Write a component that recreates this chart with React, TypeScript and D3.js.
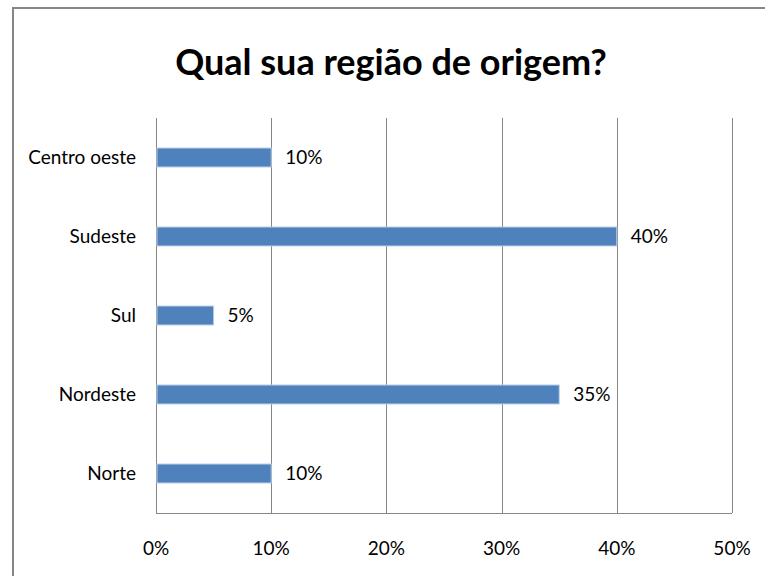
import React, { useEffect, useRef } from 'react';
import * as d3 from 'd3';

const categories = ['Centro oeste', 'Sudeste', 'Sul', 'Nordeste', 'Norte'];
const values = [0.10, 0.40, 0.05, 0.35, 0.10];
const ticks = [0, 0.1, 0.2, 0.3, 0.4, 0.5];
const title = 'Qual sua região de origem?';

const font = 'Lato, "Open Sans", sans-serif';

export default function App() {
  const svgRef = useRef<SVGSVGElement>(null);

  useEffect(() => {
    if (!svgRef.current) return;
    const svg = d3.select(svgRef.current);
    svg.selectAll('*').remove();

    const width = 765;
    const height = 576;
    const margin = { top: 118, right: 33, bottom: 63, left: 156 };

    svg.append('rect')
      .attr('width', width)
      .attr('height', height)
      .attr('fill', '#fff');

    // outer chart border
    svg.append('rect')
      .attr('x', 13)
      .attr('y', 8)
      .attr('width', width + 20)
      .attr('height', height + 20)
      .attr('fill', 'none')
      .attr('stroke', '#868686')
      .attr('stroke-width', 2);

    const x = d3.scaleLinear()
      .domain([0, 0.5])
      .range([margin.left, width - margin.right]);

    const y = d3.scaleBand<string>()
      .domain(categories)
      .range([margin.top, height - margin.bottom])
      .paddingInner(0.76)
      .paddingOuter(0.38);

    svg.append('g')
      .selectAll('line')
      .data(ticks)
      .join('line')
      .attr('x1', d => Math.round(x(d)) + 0.5)
      .attr('x2', d => Math.round(x(d)) + 0.5)
      .attr('y1', margin.top)
      .attr('y2', height - margin.bottom)
      .attr('stroke', '#868686')
      .attr('stroke-width', 1);

    svg.append('line')
      .attr('x1', margin.left)
      .attr('x2', width - margin.right)
      .attr('y1', height - margin.bottom + 0.5)
      .attr('y2', height - margin.bottom + 0.5)
      .attr('stroke', '#868686');

    svg.append('g')
      .selectAll('rect')
      .data(values)
      .join('rect')
      .attr('x', margin.left + 1)
      .attr('y', (_, i) => y(categories[i])!)
      .attr('width', d => x(d) - x(0) - 1)
      .attr('height', y.bandwidth())
      .attr('fill', '#4f81bd')
      .attr('stroke', '#b9cde5')
      .attr('stroke-width', 1);

    svg.append('g')
      .selectAll('text')
      .data(values)
      .join('text')
      .attr('x', d => x(d) + 14)
      .attr('y', (_, i) => y(categories[i])! + y.bandwidth() / 2)
      .attr('dy', '0.35em')
      .attr('font-family', font)
      .attr('font-size', 19)
      .attr('fill', '#000')
      .text(d => `${Math.round(d * 100)}%`);

    svg.append('g')
      .selectAll('text')
      .data(categories)
      .join('text')
      .attr('x', margin.left - 20)
      .attr('y', d => y(d)! + y.bandwidth() / 2)
      .attr('dy', '0.35em')
      .attr('text-anchor', 'end')
      .attr('font-family', font)
      .attr('font-size', 19)
      .attr('fill', '#000')
      .text(d => d);

    svg.append('g')
      .selectAll('text')
      .data(ticks)
      .join('text')
      .attr('x', d => x(d))
      .attr('y', 548)
      .attr('dy', '0.35em')
      .attr('text-anchor', 'middle')
      .attr('font-family', font)
      .attr('font-size', 19)
      .attr('fill', '#000')
      .text(d => `${Math.round(d * 100)}%`);

    svg.append('text')
      .attr('x', 391)
      .attr('y', 75)
      .attr('text-anchor', 'middle')
      .attr('font-family', font)
      .attr('font-weight', 'bold')
      .attr('font-size', 36)
      .attr('fill', '#000')
      .text(title);
  }, []);

  return (
    <svg ref={svgRef} width={765} height={576}
      style={{ position: 'absolute', left: 0, top: 0, display: 'block' }} />
  );
}
